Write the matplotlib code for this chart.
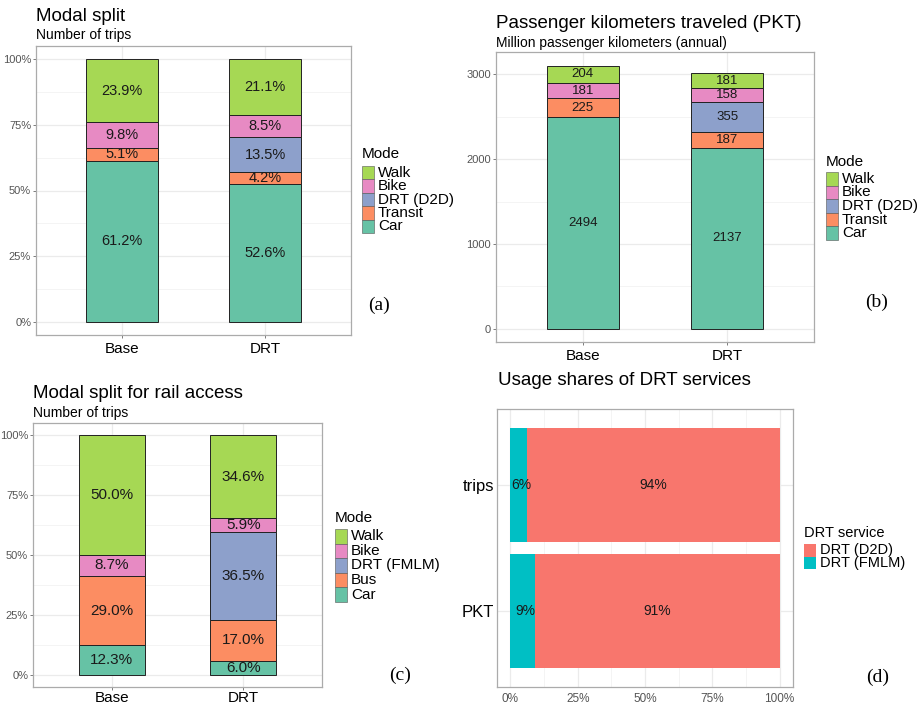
import numpy as np
import matplotlib
matplotlib.use('Agg')
import matplotlib.pyplot as plt
from matplotlib.patches import Rectangle
from matplotlib.ticker import FixedLocator

W, H = 917, 706
plt.rcParams['font.family'] = ['Liberation Sans', 'DejaVu Sans']

# data
scenarios = ['Base', 'DRT']

modes_a = ['Car', 'Transit', 'DRT (D2D)', 'Bike', 'Walk']
split_base = [61.2, 5.1, 0.0, 9.8, 23.9]
split_drt = [52.6, 4.2, 13.5, 8.5, 21.1]

pkt_base = [2494, 225, 0, 181, 204]
pkt_drt = [2137, 187, 355, 158, 181]

modes_c = ['Car', 'Bus', 'DRT (FMLM)', 'Bike', 'Walk']
rail_base = [12.3, 29.0, 0.0, 8.7, 50.0]
rail_drt = [6.0, 17.0, 36.5, 5.9, 34.6]

usage_cats = ['trips', 'PKT']
services = ['DRT (D2D)', 'DRT (FMLM)']
d2d_share = [94, 91]
fmlm_share = [6, 9]

set2 = ['#66C2A5', '#FC8D62', '#8DA0CB', '#E78AC3', '#A6D854']
hue2 = ['#F8766D', '#00BFC4']

fig = plt.figure(figsize=(W / 100, H / 100), dpi=100)


def px_axes(l, t, r, b):
    return fig.add_axes([l / W, 1 - b / H, (r - l) / W, (b - t) / H])


def ftext(x, y, s, **kw):
    fig.text(x / W, 1 - y / H, s, **kw)


def style(ax):
    for sp in ax.spines.values():
        sp.set_color('#ababab')
        sp.set_linewidth(0.9)
    ax.set_axisbelow(True)
    ax.grid(which='major', color='#ebebeb', lw=0.9)
    ax.grid(which='minor', color='#f3f3f3', lw=0.6)
    ax.tick_params(which='major', length=2, width=0.6, color='#666666',
                   labelsize=8, labelcolor='#555555', pad=1.5)
    ax.tick_params(which='minor', length=0)


def stacked(ax, cols, fill, fmt, fsize, xpad):
    for i, raw in enumerate(cols):
        raw = np.array(raw, float)
        vals = raw / raw.sum() if fill else raw
        bottom = 0.0
        for v, r, c in zip(vals, raw, set2):
            if v > 0:
                ax.bar(i + 1, v, 0.5, bottom=bottom, color=c,
                       edgecolor='#222222', lw=0.7)
                ax.text(i + 1, bottom + v / 2, fmt(r), ha='center',
                        va='center', fontsize=fsize, color='#1a1a1a')
            bottom += v
    ax.set_xlim(0.4, 2.6)
    ax.set_xticks([1, 2])
    ax.set_xticklabels(scenarios, fontsize=11, color='black')
    ax.tick_params(axis='x', pad=xpad)


def legend(x, y_title, y_key, key_h, title, labels, colors, edge=True, fsize=11):
    ftext(x, y_title, title, fontsize=fsize, va='center', ha='left')
    for k, (lab, c) in enumerate(zip(labels, colors)):
        y0 = y_key + k * key_h
        fig.patches.append(Rectangle((x / W, 1 - (y0 + key_h) / H), 12 / W,
                                     key_h / H, transform=fig.transFigure,
                                     facecolor=c,
                                     edgecolor='#555555' if edge else 'none',
                                     lw=0.4))
        ftext(x + 16, y0 + key_h / 2, lab, fontsize=fsize, va='center', ha='left')


pct_ticks = [0, 0.25, 0.5, 0.75, 1.0]
pct_labels = ['0%', '25%', '50%', '75%', '100%']
pct_minor = [0.125, 0.375, 0.625, 0.875]

# (a) modal split
ax = px_axes(36, 46, 351, 335)
style(ax)
stacked(ax, [split_base, split_drt], True, lambda v: f'{v:.1f}%', 10.5, 3)
ax.set_ylim(-0.05, 1.05)
ax.set_yticks(pct_ticks)
ax.set_yticklabels(pct_labels)
ax.yaxis.set_minor_locator(FixedLocator(pct_minor))
ftext(36, 21, 'Modal split', fontsize=13.5)
ftext(36, 39, 'Number of trips', fontsize=10)
legend(362, 154, 166, 13.4, 'Mode', modes_a[::-1], set2[::-1])
ftext(379, 305, '(a)', fontsize=14, family='Liberation Serif', ha='center', va='center')

# (b) PKT
ax = px_axes(496, 52, 814, 342)
style(ax)
stacked(ax, [pkt_base, pkt_drt], False, lambda v: f'{v:.0f}', 9.5, 3)
ax.set_ylim(-155, 3265)
ax.set_yticks([0, 1000, 2000, 3000])
ax.yaxis.set_minor_locator(FixedLocator([500, 1500, 2500]))
ftext(496, 28, 'Passenger kilometers traveled (PKT)', fontsize=13.5)
ftext(496, 47, 'Million passenger kilometers (annual)', fontsize=10)
legend(826, 162, 172, 13.6, 'Mode', modes_a[::-1], set2[::-1])
ftext(877, 302, '(b)', fontsize=14, family='Liberation Serif', ha='center', va='center')

# (c) rail access
ax = px_axes(33, 423, 322, 687)
style(ax)
stacked(ax, [rail_base, rail_drt], True, lambda v: f'{v:.1f}%', 11, 1)
ax.set_ylim(-0.05, 1.05)
ax.set_yticks(pct_ticks)
ax.set_yticklabels(pct_labels)
ax.yaxis.set_minor_locator(FixedLocator(pct_minor))
ftext(33, 398, 'Modal split for rail access', fontsize=13.5)
ftext(33, 417, 'Number of trips', fontsize=10)
legend(335, 518, 529, 14.6, 'Mode', modes_c[::-1], set2[::-1])
ftext(400, 675, '(c)', fontsize=14, family='Liberation Serif', ha='center', va='center')

# (d) usage shares
ax = px_axes(497, 409, 793, 687)
style(ax)
ypos = np.arange(len(usage_cats))[::-1] + 1
fm = np.array(fmlm_share, float)
dd = np.array(d2d_share, float)
ax.barh(ypos, fm, 0.9, color=hue2[1])
ax.barh(ypos, dd, 0.9, left=fm, color=hue2[0])
for y, f, d in zip(ypos, fm, dd):
    ax.text(f / 2 + 1, y, f'{f:.0f}%', ha='center', va='center', fontsize=10, color='#1a1a1a')
    ax.text(f + d / 2, y, f'{d:.0f}%', ha='center', va='center', fontsize=10, color='#1a1a1a')
ax.set_ylim(0.4, 2.6)
ax.set_yticks(ypos)
ax.set_yticklabels(usage_cats, fontsize=12, color='black')
ax.tick_params(axis='y', length=0, pad=2)
ax.tick_params(axis='x', length=0, pad=4, labelsize=8.5)
ax.set_xlim(-5, 105)
ax.set_xticks([0, 25, 50, 75, 100])
ax.set_xticklabels(pct_labels)
ax.xaxis.set_minor_locator(FixedLocator([12.5, 37.5, 62.5, 87.5]))
ftext(498, 385, 'Usage shares of DRT services', fontsize=13.5)
legend(804, 533, 544, 12.5, 'DRT service', services, hue2, edge=False, fsize=10.5)
ftext(878, 677, '(d)', fontsize=14, family='Liberation Serif', ha='center', va='center')

fig.savefig('out.png', dpi=100)
